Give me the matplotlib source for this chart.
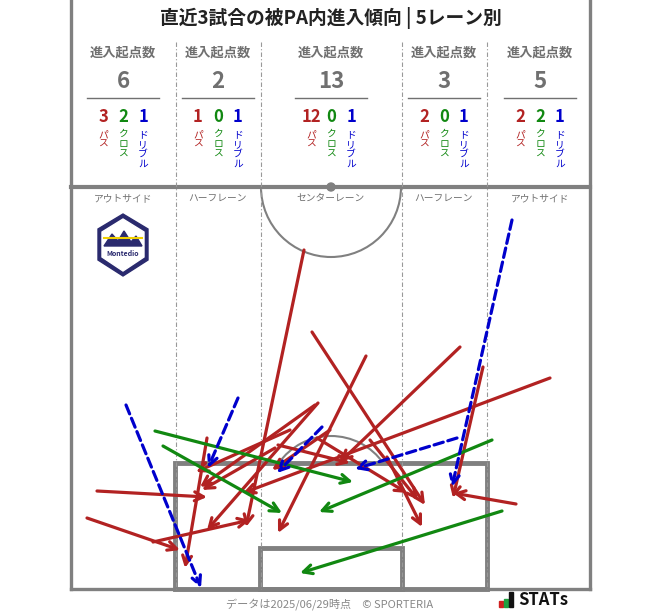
import matplotlib
matplotlib.use("Agg")
import matplotlib.pyplot as plt
from matplotlib.patches import Arc, Circle, Polygon, Rectangle

plt.rcParams["font.family"] = "Noto Sans CJK JP"

title = "直近3試合の被PA内進入傾向 | 5レーン別"
lanes = ["アウトサイド", "ハーフレーン", "センターレーン", "ハーフレーン", "アウトサイド"]
lane_centers = [123, 218, 331, 444, 540]
totals = [6, 2, 13, 3, 5]
passes = [3, 1, 12, 2, 2]
crosses = [2, 0, 0, 0, 2]
dribbles = [1, 1, 1, 1, 1]

pass_arrows = [
    (304, 250, 246, 527), (312, 332, 425, 505), (366, 356, 278, 533),
    (460, 347, 340, 462), (550, 378, 243, 493), (483, 367, 453, 498),
    (516, 504, 453, 493), (97, 491, 207, 497), (87, 518, 180, 550),
    (153, 542, 250, 520), (207, 438, 185, 568), (315, 405, 200, 487),
    (318, 403, 207, 530), (317, 438, 407, 493), (278, 445, 350, 463),
    (387, 457, 422, 527), (290, 430, 196, 472), (275, 448, 202, 490),
    (330, 430, 272, 470), (370, 440, 418, 500),
]
cross_arrows = [
    (155, 431, 353, 482), (163, 446, 282, 513),
    (492, 440, 319, 512), (502, 511, 300, 573),
]
dribble_arrows = [
    (126, 405, 201, 588), (238, 398, 208, 468), (322, 427, 277, 473),
    (457, 438, 355, 469), (512, 220, 452, 487),
]

RED, GREEN, BLUE, GRAY = "#b22222", "#118811", "#0000cc", "#808080"
NAVY = "#2a2a6e"

fig = plt.figure(figsize=(6.63, 6.11), dpi=100)
ax = fig.add_axes([0, 0, 1, 1])
ax.set_xlim(0, 663)
ax.set_ylim(611, 0)
ax.axis("off")

plw = 2.4
ax.plot([71, 71], [0, 589], color=GRAY, lw=plw)
ax.plot([590, 590], [0, 589], color=GRAY, lw=plw)
ax.plot([71, 590], [589, 589], color=GRAY, lw=plw)
ax.plot([71, 590], [187, 187], color=GRAY, lw=3)
ax.add_patch(Circle((331, 187), 4, color=GRAY))
ax.add_patch(Arc((331, 187), 140, 140, theta1=0, theta2=180, color=GRAY, lw=1.5))
ax.add_patch(Rectangle((175, 463), 312, 126, fill=False, ec=GRAY, lw=3.5))
ax.add_patch(Rectangle((260, 548), 142, 41, fill=False, ec=GRAY, lw=3.5))
ax.add_patch(Arc((331, 500), 128, 128, theta1=215, theta2=325, color=GRAY, lw=1.5))

for x in [176, 261, 402, 487]:
    ax.plot([x, x], [42, 589], color="#999999", lw=0.8, ls=(0, (4, 2, 1, 2)))

ax.text(331, 18, title, ha="center", va="center", fontsize=13.5, fontweight="bold", color="#222222")
for i, cx in enumerate(lane_centers):
    ax.text(cx, 52, "進入起点数", ha="center", va="center", fontsize=9.5, fontweight="bold", color="#707070")
    ax.text(cx, 82, str(totals[i]), ha="center", va="center", fontsize=16, fontweight="bold", color="#707070")
    ax.plot([cx - 36, cx + 36], [98, 98], color="#707070", lw=1)
    for dx, val, col, lab in [(-20, passes[i], RED, "パ\nス"), (0, crosses[i], GREEN, "ク\nロ\nス"), (20, dribbles[i], BLUE, "ド\nリ\nブ\nル")]:
        ax.text(cx + dx, 117, str(val), ha="center", va="center", fontsize=12, fontweight="bold", color=col)
        ax.text(cx + dx, 129, lab, ha="center", va="top", fontsize=7, color=col, linespacing=1.0)
    ax.text(cx, 198, lanes[i], ha="center", va="center", fontsize=7, color="#707070")

# logo
ax.add_patch(Polygon([(123, 214), (148, 229), (148, 260), (123, 276), (98, 260), (98, 229)],
                     closed=True, fc=NAVY, ec=NAVY))
ax.add_patch(Polygon([(123, 219), (144, 232), (144, 257), (123, 271), (102, 257), (102, 232)],
                     closed=True, fc="white", ec="white", lw=1))
ax.add_patch(Polygon([(104, 246), (112, 234), (118, 241), (124, 231), (131, 242), (136, 236), (142, 246)],
                     closed=True, fc=NAVY, ec=NAVY))
ax.plot([104, 142], [238, 238], color="#f0d000", lw=1.5)
ax.text(123, 254, "Montedio", ha="center", va="center", fontsize=5, fontweight="bold", color=NAVY, style="italic")

def draw(arrs, col, ls):
    for x1, y1, x2, y2 in arrs:
        ax.annotate("", xy=(x2, y2), xytext=(x1, y1),
                    arrowprops=dict(arrowstyle="->", color=col, lw=2.3, ls=ls,
                                    mutation_scale=16, shrinkA=0, shrinkB=0))

draw(pass_arrows, RED, "-")
draw(cross_arrows, GREEN, "-")
draw(dribble_arrows, BLUE, (0, (3, 1.5)))

ax.text(330, 604, "データは2025/06/29時点　© SPORTERIA", ha="center", va="center", fontsize=8, color="#888888")
ax.add_patch(Rectangle((499, 601), 4, 6, color="#d02020"))
ax.add_patch(Rectangle((504, 599), 4, 8, color="#20a040"))
ax.add_patch(Rectangle((509, 592), 4, 15, color="#111111"))
ax.text(518, 600, "STATs", ha="left", va="center", fontsize=12, fontweight="bold", color="#111111")

fig.savefig("out.png", dpi=100)
